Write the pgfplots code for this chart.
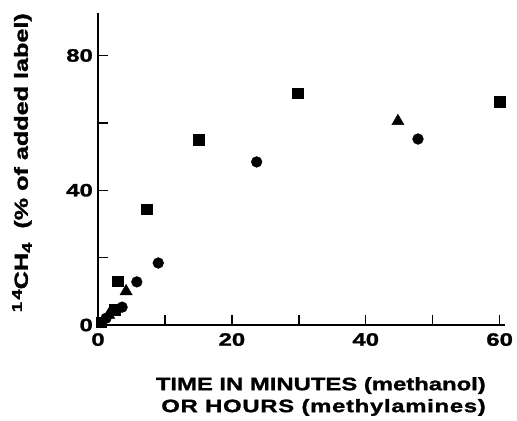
\documentclass[border=0pt]{standalone}
\usepackage{fontspec}
\setmainfont{Liberation Sans}[FakeStretch=1.33, BoldFeatures={FakeBold=1.5}]
\usepackage{pgfplots}
\pgfplotsset{compat=1.18}
\begin{document}
\begin{tikzpicture}[x=1bp,y=1bp]
\path (-98,-95) rectangle (419,325);
\begin{axis}[
  at={(0,0)}, anchor=origin,
  scale only axis, width=407bp, height=312bp,
  xmin=0, xmax=60.8, ymin=0, ymax=92.6,
  axis lines=left, axis line style={line width=1.6pt, -},
  xtick={0,10,20,30,40,50,60}, xticklabels={0,,20,,40,,60},
  ytick={0,20,40,60,80}, yticklabels={0,,40,,80},
  tick align=inside, major tick length=10bp,
  tick style={line width=1.4pt, black},
  tick label style={font=\fontsize{18}{20}\selectfont\bfseries, inner sep=0pt},
  /pgf/number format/assume math mode=true,
  xticklabel style={yshift=-8bp},
  yticklabel style={xshift=-5bp},
  clip=false,
]
% squares
\addplot[only marks, mark=square*, mark size=5.3bp, black,
  mark options={rounded corners=1.5bp}] coordinates {
  (15,55) (29.8,68.8) (60,66.2) (7.3,34.4) (2.9,13) (2.5,4.5) (0.5,0.8)};
% circles
\addplot[only marks, mark=*, mark size=5.4bp, black] coordinates {
  (23.7,48.4) (47.8,55.2) (9,18.4) (5.8,12.8) (3.6,5.3) (1.2,2)};
% triangles
\addplot[only marks, mark=triangle*, mark size=7bp, black] coordinates {
  (44.8,60.5) (4.2,10) (1.6,3)};
\end{axis}
\node[rotate=90, anchor=east, inner sep=0pt, font=\fontsize{19}{21}\selectfont\bfseries] at (-76,312)
  {\raisebox{6bp}{\fontsize{14}{15}\selectfont 1\,4}CH\raisebox{-4bp}{\fontsize{14}{15}\selectfont 4}\hspace{14bp}(\% of added label)};
\node[font=\fontsize{18}{20}\selectfont\bfseries, align=right, anchor=north east, inner sep=0pt] at (388,-52)
  {TIME IN MINUTES (methanol)\\[2bp]{\addfontfeature{LetterSpace=4}OR HOURS (methylamines)}};
\end{tikzpicture}
\end{document}
